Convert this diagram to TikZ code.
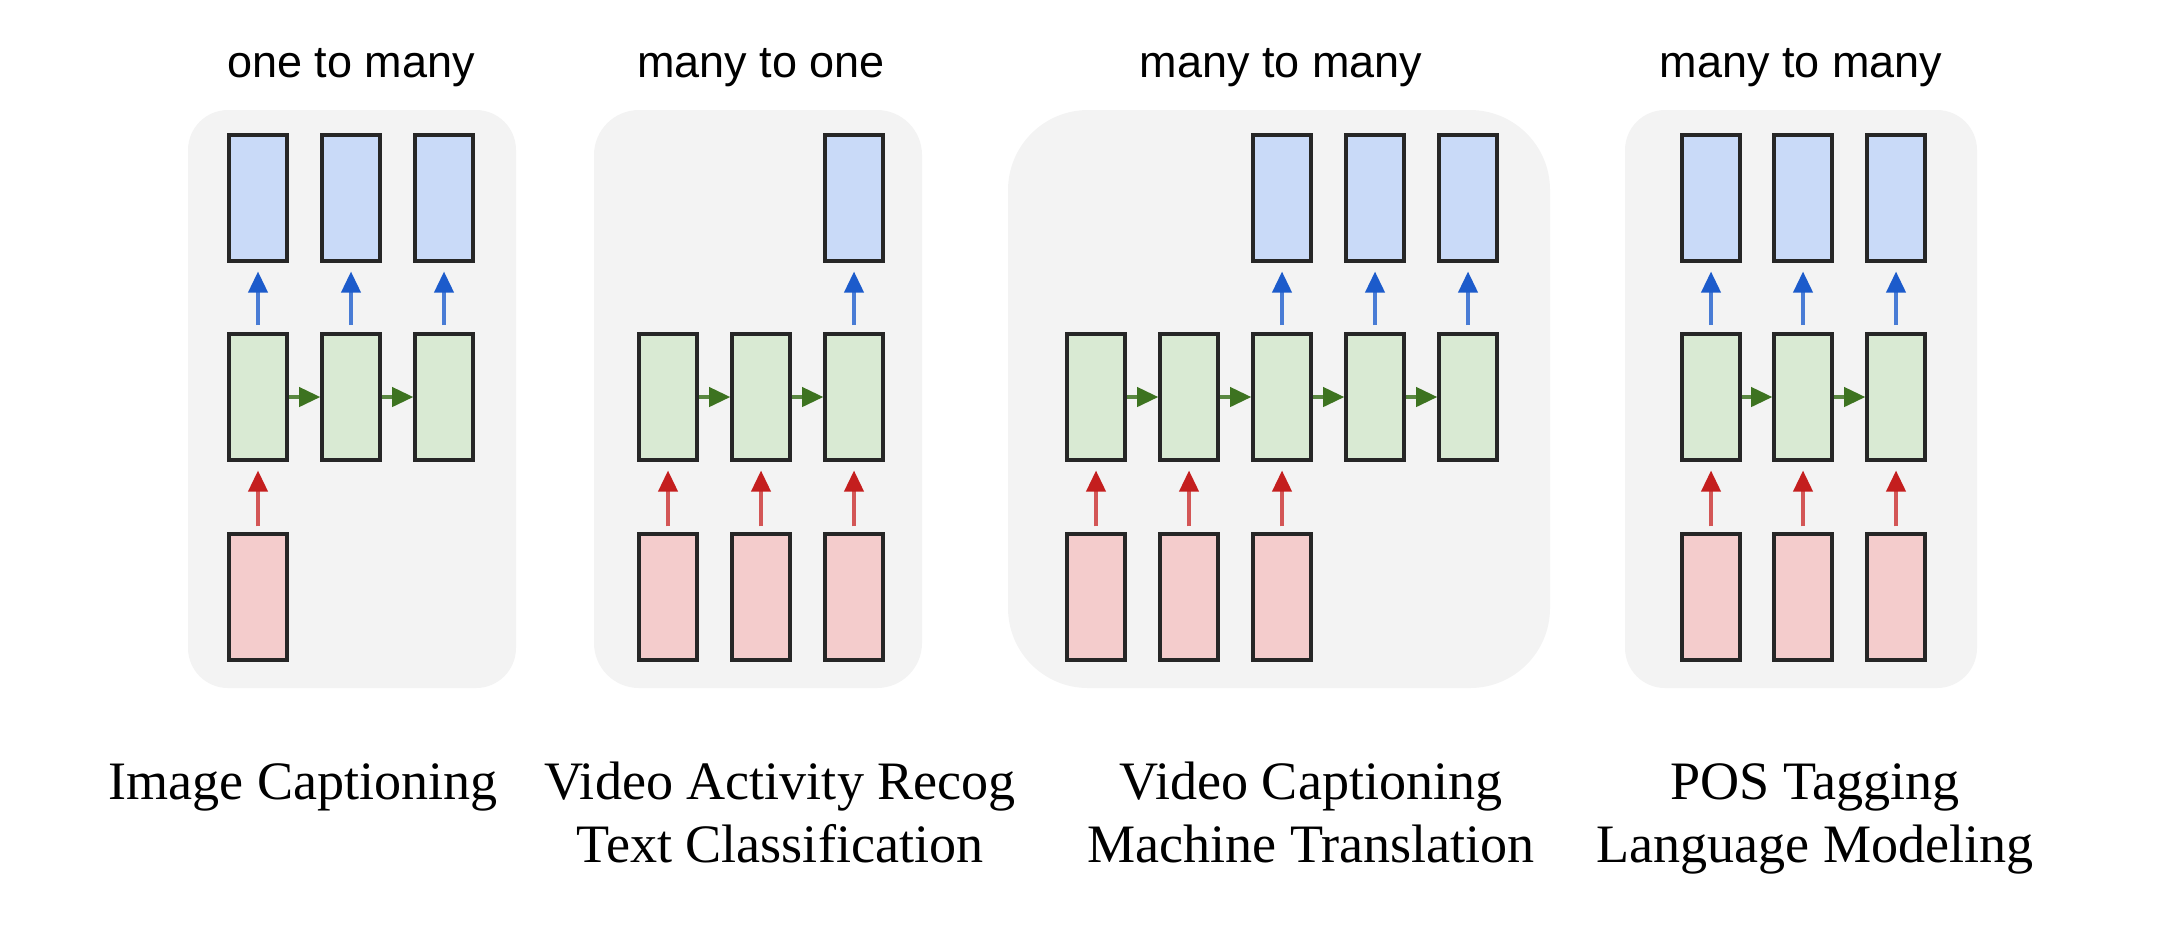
\documentclass[tikz,border=0pt]{standalone}
\usepackage{fontspec}
\setmainfont{Liberation Serif}
\newfontfamily\arialfont{Liberation Sans}
\usetikzlibrary{arrows.meta}
\definecolor{panelbg}{HTML}{F3F3F3}
\definecolor{outfill}{HTML}{C9DAF8}
\definecolor{hidfill}{HTML}{D9EAD3}
\definecolor{infill}{HTML}{F4CCCC}
\definecolor{outarr}{HTML}{1C5BCB}
\definecolor{hidarr}{HTML}{3D7320}
\definecolor{inarr}{HTML}{C41E1E}
\begin{document}
\begin{tikzpicture}[x=0.1mm, y=-0.1mm,
  cell/.style={draw=black!85, line width=1pt, minimum width=5.8mm, minimum height=12.6mm, inner sep=0},
  ycell/.style={cell, fill=outfill},
  hcell/.style={cell, fill=hidfill},
  xcell/.style={cell, fill=infill},
  yarr/.style={draw=outarr!80, line width=0.9pt, -{Triangle[width=5.5pt,length=6pt,color=outarr]}, shorten <=2pt, shorten >=2.5pt},
  harr/.style={draw=hidarr!85, line width=0.9pt, -{Triangle[width=5.5pt,length=6pt,color=hidarr]}},
  xarr/.style={draw=inarr!75, line width=0.9pt, -{Triangle[width=5.5pt,length=6pt,color=inarr]}, shorten <=1.7pt, shorten >=2.5pt},
  title/.style={font=\arialfont\fontsize{12.8}{15}\selectfont, anchor=base, inner sep=0},
  task/.style={font=\fontsize{15.4}{17.9}\selectfont, align=center, anchor=base, inner sep=0}]
\useasboundingbox (0,0) rectangle (2158,936);
% panels
\fill[panelbg, rounded corners=4mm] (188,110) rectangle (516,688);
\fill[panelbg, rounded corners=4.5mm] (594,110) rectangle (922,688);
\fill[panelbg, rounded corners=8mm] (1008,110) rectangle (1550,688);
\fill[panelbg, rounded corners=4mm] (1625,110) rectangle (1977,688);
% one to many
\node[title] (t1) at (351,77) {one to many};
\node[ycell] (ay1) at (258,198){};
\node[ycell] (ay2) at (351,198){};
\node[ycell] (ay3) at (444,198){};
\node[hcell] (ah1) at (258,397){};
\node[hcell] (ah2) at (351,397){};
\node[hcell] (ah3) at (444,397){};
\node[xcell] (ax1) at (258,597){};
\draw[xarr](ax1) -- (ah1);
\draw[harr](ah1) -- (ah2);
\draw[harr](ah2) -- (ah3);
\draw[yarr](ah1) -- (ay1);
\draw[yarr](ah2) -- (ay2);
\draw[yarr](ah3) -- (ay3);
% many to one
\node[title] (t2) at (761,77) {many to one};
\node[ycell] (by3) at (854,198){};
\node[hcell] (bh1) at (668,397){};
\node[hcell] (bh2) at (761,397){};
\node[hcell] (bh3) at (854,397){};
\node[xcell] (bx1) at (668,597){};
\node[xcell] (bx2) at (761,597){};
\node[xcell] (bx3) at (854,597){};
\draw[xarr](bx1) -- (bh1);
\draw[xarr](bx2) -- (bh2);
\draw[xarr](bx3) -- (bh3);
\draw[harr](bh1) -- (bh2);
\draw[harr](bh2) -- (bh3);
\draw[yarr](bh3) -- (by3);
% many to many, delayed
\node[title] (t3) at (1281,77) {many to many};
\node[ycell] (cy3) at (1282,198){};
\node[ycell] (cy4) at (1375,198){};
\node[ycell] (cy5) at (1468,198){};
\node[hcell] (ch1) at (1096,397){};
\node[hcell] (ch2) at (1189,397){};
\node[hcell] (ch3) at (1282,397){};
\node[hcell] (ch4) at (1375,397){};
\node[hcell] (ch5) at (1468,397){};
\node[xcell] (cx1) at (1096,597){};
\node[xcell] (cx2) at (1189,597){};
\node[xcell] (cx3) at (1282,597){};
\draw[xarr](cx1) -- (ch1);
\draw[xarr](cx2) -- (ch2);
\draw[xarr](cx3) -- (ch3);
\draw[harr](ch1) -- (ch2);
\draw[harr](ch2) -- (ch3);
\draw[harr](ch3) -- (ch4);
\draw[harr](ch4) -- (ch5);
\draw[yarr](ch3) -- (cy3);
\draw[yarr](ch4) -- (cy4);
\draw[yarr](ch5) -- (cy5);
% many to many, synced
\node[title] (t4) at (1801,77) {many to many};
\node[ycell] (dy1) at (1711,198){};
\node[ycell] (dy2) at (1803,198){};
\node[ycell] (dy3) at (1896,198){};
\node[hcell] (dh1) at (1711,397){};
\node[hcell] (dh2) at (1803,397){};
\node[hcell] (dh3) at (1896,397){};
\node[xcell] (dx1) at (1711,597){};
\node[xcell] (dx2) at (1803,597){};
\node[xcell] (dx3) at (1896,597){};
\draw[xarr](dx1) -- (dh1);
\draw[xarr](dx2) -- (dh2);
\draw[xarr](dx3) -- (dh3);
\draw[harr](dh1) -- (dh2);
\draw[harr](dh2) -- (dh3);
\draw[yarr](dh1) -- (dy1);
\draw[yarr](dh2) -- (dy2);
\draw[yarr](dh3) -- (dy3);
% tasks (base is the last line)
\node[task] (k1) at (303,799) {Image Captioning};
\node[task] (k2) at (780,862) {Video Activity Recog\\Text Classification};
\node[task] (k3) at (1311,862) {Video Captioning\\Machine Translation};
\node[task] (k4) at (1815,862) {POS Tagging\\Language Modeling};
\end{tikzpicture}
\end{document}
